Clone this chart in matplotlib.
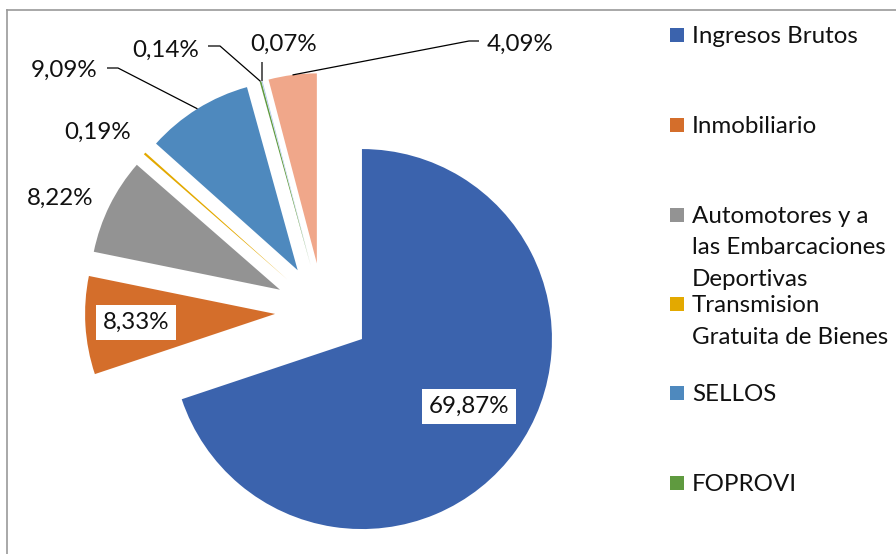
import numpy as np
import matplotlib
matplotlib.use("Agg")
import matplotlib.pyplot as plt
from matplotlib.patches import Rectangle
from matplotlib.lines import Line2D

# ---- data ----
categories = ["Ingresos Brutos", "Inmobiliario",
              "Automotores y a\nlas Embarcaciones\nDeportivas",
              "Transmision\nGratuita de Bienes", "SELLOS", "FOPROVI",
              "Otro 1", "Otro 2"]
values = [69.87, 8.33, 8.22, 0.19, 9.09, 0.14, 0.07, 4.09]
colors = ["#3B63AD", "#D46E2B", "#939393", "#E3A900", "#4E89BE",
          "#5F9A3F", "#A9C4E8", "#F0A78A"]
legend_shown = 6  # legend in the reference is truncated after FOPROVI

plt.rcParams['font.family'] = ['Lato', 'DejaVu Sans']
FS = 17.4

fig = plt.figure(figsize=(8.96, 5.54), dpi=100)
ax = fig.add_axes([0, 0, 1, 1])

CX, CY, R, EXP = 323, 311, 190, 48
wedges, _ = ax.pie(values, colors=colors, startangle=-90, counterclock=True,
                   center=(CX, CY), radius=R, explode=[EXP] * len(values),
                   wedgeprops=dict(linewidth=0), frame=True)
ax.set_xlim(0, 896)
ax.set_ylim(554, 0)
ax.set_aspect('auto')
ax.axis('off')

def fmt(v):
    return f"{v:.2f}%".replace('.', ',')

# outer mid point of each wedge (screen coords)
def outer_mid(i):
    w = wedges[i]
    th = np.deg2rad((w.theta1 + w.theta2) / 2)
    cx, cy = w.center
    return cx + w.r * np.cos(th), cy + w.r * np.sin(th)

# label positions (center x, baseline y)
label_pos = [(469, 413), (136, 329), (60, 205), (98, 139), (64, 77),
             (166, 57), (284, 51), (520, 51)]
boxed = [True, True, False, False, False, False, False, False]
for i, v in enumerate(values):
    x, y = label_pos[i]
    kw = {}
    if boxed[i]:
        kw['bbox'] = dict(boxstyle='square,pad=0.28', fc='white', ec='none')
    ax.text(x, y, fmt(v), ha='center', va='baseline', fontsize=FS,
            color='#111111', **kw)

# leader lines
def leader(i, pts):
    ex, ey = outer_mid(i)
    xs = [p[0] for p in pts] + [ex]
    ys = [p[1] for p in pts] + [ey]
    ax.add_line(Line2D(xs, ys, color='black', lw=0.9, solid_capstyle='butt'))

leader(4, [(107, 68), (118, 68)])
leader(5, [(208, 46), (220, 46)])
leader(6, [(262, 62)])
leader(7, [(479, 41), (469, 41)])

# frame
ax.add_line(Line2D([7, 7], [560, 10], color='#9A9A9A', lw=1.2))
ax.add_line(Line2D([7, 900], [10, 10], color='#9A9A9A', lw=1.2))

# legend
leg_y = [35, 125, 215, 304, 393, 483]
for i in range(legend_shown):
    y = leg_y[i]
    ax.add_patch(Rectangle((670, y - 7), 14, 14, fc=colors[i], ec='none'))
    for k, line in enumerate(categories[i].split('\n')):
        ax.text(692, y + 8 + 31.5 * k, line, ha='left', va='baseline',
                fontsize=FS, color='#111111')

fig.savefig("out.png", dpi=100)
